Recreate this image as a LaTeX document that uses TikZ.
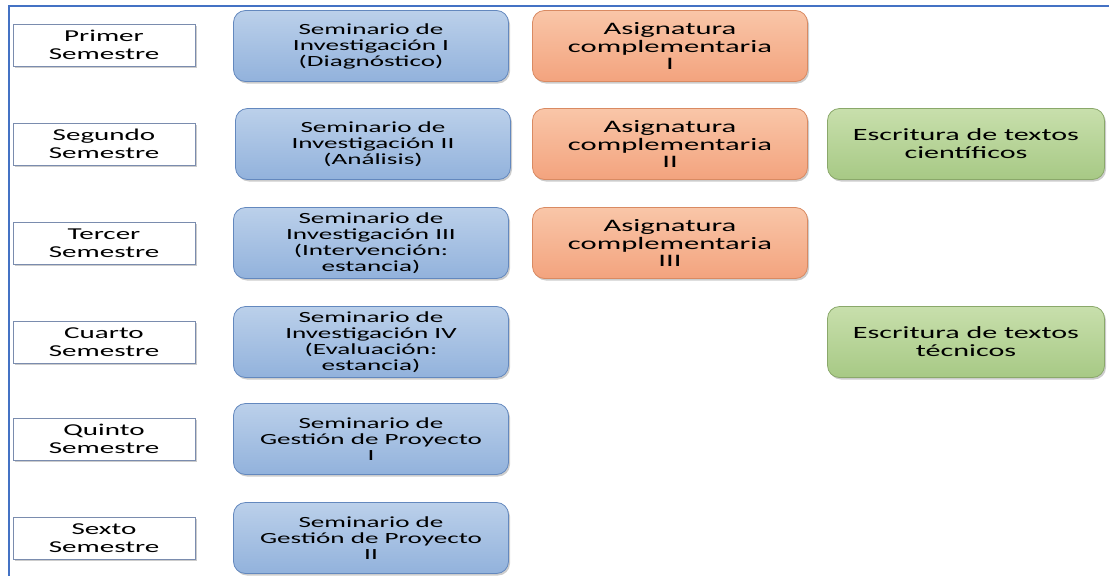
\documentclass[tikz,border=0pt]{standalone}
\usepackage{fontspec}
\setmainfont[FakeStretch=1.75]{Carlito}
\usepackage{tikz}
\usepackage{xcolor}
\usetikzlibrary{shadows, positioning}

\definecolor{frameblue}{HTML}{4472C4}
\definecolor{semline}{HTML}{7A8CAE}
\definecolor{invtop}{HTML}{BBD0EA}
\definecolor{invbot}{HTML}{92B2DC}
\definecolor{invline}{HTML}{6388BE}
\definecolor{asigtop}{HTML}{F9C6A8}
\definecolor{asigbot}{HTML}{F3A37E}
\definecolor{asigline}{HTML}{D98A62}
\definecolor{esctop}{HTML}{C8DFAC}
\definecolor{escbot}{HTML}{A7C985}
\definecolor{escline}{HTML}{8AA86A}

\begin{document}
\begin{tikzpicture}[x=1pt, y=-1pt,
    semestre/.style={draw=semline, line width=0.8pt, fill=white, minimum width=182pt, minimum height=42pt,
        align=center, font=\fontsize{16.6}{18}\selectfont, inner sep=0pt,
        drop shadow={shadow xshift=2pt, shadow yshift=-2pt, opacity=0.4}},
    caja/.style={rounded corners=12pt, line width=0.8pt, minimum width=275pt, minimum height=71pt,
        align=center, inner sep=0pt,
        drop shadow={shadow xshift=1.5pt, shadow yshift=-2pt, opacity=0.4}},
    seminario/.style={caja, draw=invline, top color=invtop, bottom color=invbot,
        font=\fontsize{15.5}{16}\selectfont},
    asignatura/.style={caja, draw=asigline, top color=asigtop, bottom color=asigbot,
        font=\fontsize{17.5}{17.5}\selectfont},
    escritura/.style={caja, draw=escline, top color=esctop, bottom color=escbot, minimum width=277pt,
        font=\fontsize{17.2}{18}\selectfont}]
\useasboundingbox (0,0) rectangle (1109,576);

% Frame (top and left edges only)
\draw[frameblue, line width=2pt] (1109,6) -- (9,6) -- (9,576);

% Semesters
\node[semestre] (s1) at (104,45) {Primer\\Semestre};
\node[semestre] (s2) at (104,144) {Segundo\\Semestre};
\node[semestre] (s3) at (104,243) {Tercer\\Semestre};
\node[semestre] (s4) at (104,342) {Cuarto\\Semestre};
\node[semestre] (s5) at (104,439) {Quinto\\Semestre};
\node[semestre] (s6) at (104,538) {Sexto\\Semestre};

% Research seminars
\node[seminario] (inv1) at (371,46) {Seminario de\\Investigación I\\(Diagnóstico)};
\node[seminario] (inv2) at (373,144) {Seminario de\\Investigación II\\(Análisis)};
\node[seminario] (inv3) at (371,243) {Seminario de\\Investigación III\\(Intervención:\\estancia)};
\node[seminario] (inv4) at (371,342) {Seminario de\\Investigación IV\\(Evaluación:\\estancia)};
\node[seminario] (inv5) at (371,439) {Seminario de\\Gestión de Proyecto\\I};
\node[seminario] (inv6) at (371,538) {Seminario de\\Gestión de Proyecto\\II};

% Complementary subjects
\node[asignatura] (asig1) at (670,46) {Asignatura\\complementaria\\I};
\node[asignatura] (asig2) at (670,144) {Asignatura\\complementaria\\II};
\node[asignatura] (asig3) at (670,243) {Asignatura\\complementaria\\III};

% Writing courses
\node[escritura] (esc1) at (966,144) {Escritura de textos\\científicos};
\node[escritura] (esc2) at (966,342) {Escritura de textos\\técnicos};
\end{tikzpicture}
\end{document}
